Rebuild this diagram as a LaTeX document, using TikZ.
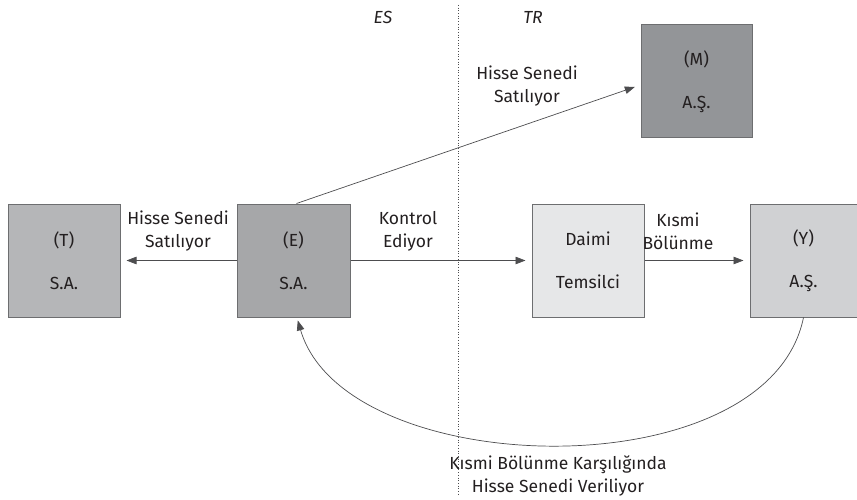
\documentclass[tikz,border=0pt]{standalone}
\usepackage{fontspec}
\setmainfont{Fira Sans}
\usetikzlibrary{arrows.meta,calc}
\definecolor{txt}{HTML}{231F20}
\definecolor{edge}{HTML}{6D6E70}
\definecolor{arr}{HTML}{4D4D4F}
\definecolor{fT}{HTML}{B5B6B8}
\definecolor{fE}{HTML}{A6A7A9}
\definecolor{fM}{HTML}{939598}
\definecolor{fD}{HTML}{E6E7E8}
\definecolor{fY}{HTML}{D0D1D3}
\begin{document}
\begin{tikzpicture}[x=1pt,y=-1pt,
  box/.style={draw=edge,line width=1pt,minimum height=113pt,inner sep=0pt,
    align=center,text=txt,font=\fontsize{17.5}{43}\selectfont},
  lbl/.style={align=center,text=txt,font=\fontsize{17.5}{23}\selectfont,inner sep=0pt},
  conn/.style={draw=arr,line width=0.7pt,-{Triangle[length=10pt,width=7.5pt]},shorten >=6pt}]
\useasboundingbox (0,0) rectangle (857,500);
\draw[arr,dotted,line width=0.7pt] (458,5) -- (458,495);
\node[text=txt,font=\fontsize{17.5}{18}\selectfont\itshape] (es) at (383,17) {ES};
\node[text=txt,font=\fontsize{17.5}{18}\selectfont\itshape] (tr) at (533,17) {TR};
\node[box,fill=fT,minimum width=112pt] (T) at (64,260.5) {(T)\\S.A.};
\node[box,fill=fE,minimum width=113pt] (E) at (293.5,260.5) {(E)\\S.A.};
\node[box,fill=fD,minimum width=112pt] (D) at (588,260.5) {Daimi\\Temsilci};
\node[box,fill=fY,minimum width=107pt] (Y) at (803.5,260.5) {(Y)\\A.Ş.};
\node[box,fill=fM,minimum width=111pt] (M) at (696.5,81.5) {(M)\\A.Ş.};
\draw[conn] (E.west) -- (T.east);
\draw[conn] (E.east) -- (D.west);
\draw[conn] (D.east) -- (Y.west);
\draw[conn] ($(E.north)+(3,0)$) -- ($(M.west)+(0,3.5)$);
\draw[conn,shorten >=1pt] (Y.south) .. controls (768,492) and (345,482) .. ($(E.south)+(4,2)$);
\node[lbl] (l1) at (178,231.5) {Hisse Senedi\\Satılıyor};
\node[lbl] (l2) at (408,231.5) {Kontrol\\Ediyor};
\node[lbl] (l3) at (678,231.5) {Kısmi\\Bölünme};
\node[lbl] (l4) at (527,86.5) {Hisse Senedi\\Satılıyor};
\node[lbl] (l5) at (558,476) {Kısmi Bölünme Karşılığında\\Hisse Senedi Veriliyor};
\end{tikzpicture}
\end{document}
